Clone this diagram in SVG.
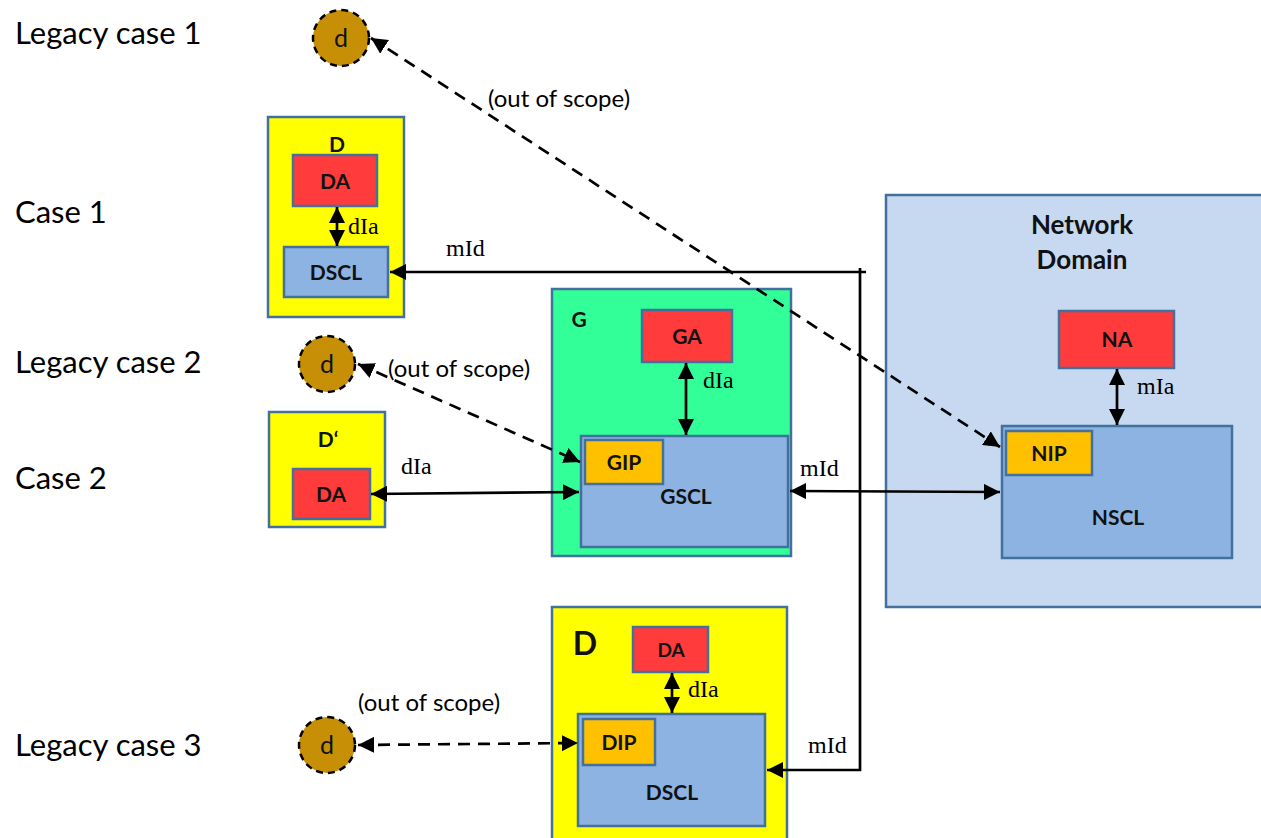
<svg xmlns="http://www.w3.org/2000/svg" width="1261" height="838" viewBox="0 0 1261 838">
<defs>
<marker id="ah" viewBox="0 0 10 10" refX="10" refY="5" markerWidth="6" markerHeight="6" markerUnits="strokeWidth" orient="auto-start-reverse"><path d="M0,0 L10,5 L0,10 z" fill="#000"/></marker>
</defs>
<style>
.lbl{font-family:Lato,"Open Sans","Liberation Sans",sans-serif;font-size:31px;fill:#000}
.bx{font-family:Lato,"Open Sans","Liberation Sans",sans-serif;font-size:21px;font-weight:bold;fill:#111;text-anchor:middle}
.ser{font-family:"Liberation Serif","DejaVu Serif",serif;font-size:24px;fill:#000}
.oos{font-family:Lato,"Open Sans","Liberation Sans",sans-serif;font-size:24px;fill:#000}
.dd{font-family:Lato,"Open Sans","Liberation Sans",sans-serif;font-size:25px;fill:#111;text-anchor:middle}
.b{stroke:#41719C;stroke-width:2.5}
.yel{fill:#FFFF00}.red{fill:#FF3B3B}.blu{fill:#8DB3E2}.grn{fill:#33FF99}.net{fill:#C6D9F1}.org{fill:#FFC000}
.leg{fill:#C68F06;stroke:#000;stroke-width:2.5;stroke-dasharray:7,5}
.c{stroke:#000;stroke-width:2.7;fill:none}
.d{stroke:#000;stroke-width:2.7;fill:none;stroke-dasharray:12,8}
</style>
<g id="labels">
<text class="lbl" x="15" y="44">Legacy case 1</text>
<text class="lbl" x="15" y="223">Case 1</text>
<text class="lbl" x="15" y="373">Legacy case 2</text>
<text class="lbl" x="15" y="489">Case 2</text>
<text class="lbl" x="15" y="756">Legacy case 3</text>
</g>
<g id="network">
<rect class="b net" x="886" y="195" width="380" height="412"/>
<text class="bx" x="1082" y="234" style="font-size:26px">Network</text>
<text class="bx" x="1082" y="269" style="font-size:26px">Domain</text>
<rect class="b red" x="1059" y="311" width="115" height="57"/>
<text class="bx" x="1117" y="347">NA</text>
<rect class="b blu" x="1002" y="426" width="230" height="132"/>
<rect class="b org" x="1006" y="431" width="86" height="44"/>
<text class="bx" x="1049" y="461">NIP</text>
<text class="bx" x="1118" y="525">NSCL</text>
</g>
<g id="case1">
<rect class="b yel" x="268" y="117" width="136" height="200"/>
<text class="bx" x="337" y="152">D</text>
<rect class="b red" x="293" y="155" width="84" height="51"/>
<text class="bx" x="335" y="189">DA</text>
<rect class="b blu" x="284" y="247" width="104" height="50"/>
<text class="bx" x="336" y="280">DSCL</text>
</g>
<g id="gateway">
<rect class="b grn" x="552" y="289" width="239" height="267"/>
<text class="bx" x="579" y="327">G</text>
<rect class="b red" x="642" y="310" width="90" height="52"/>
<text class="bx" x="687" y="344">GA</text>
<rect class="b blu" x="581" y="436" width="207" height="111"/>
<rect class="b org" x="585" y="440" width="78" height="44"/>
<text class="bx" x="624" y="470">GIP</text>
<text class="bx" x="686" y="504">GSCL</text>
</g>
<g id="case2">
<rect class="b yel" x="269" y="412" width="116" height="115"/>
<text class="bx" x="328" y="447">D‘</text>
<rect class="b red" x="293" y="469" width="77" height="50"/>
<text class="bx" x="331" y="502">DA</text>
</g>
<g id="case3">
<rect class="b yel" x="552" y="607" width="235" height="240"/>
<text class="bx" x="585" y="655" style="font-size:32px">D</text>
<rect class="b red" x="633" y="627" width="75" height="45"/>
<text class="bx" x="671" y="657" style="font-size:19px">DA</text>
<rect class="b blu" x="578" y="714" width="187" height="112"/>
<rect class="b org" x="583" y="719" width="72" height="46"/>
<text class="bx" x="619" y="750">DIP</text>
<text class="bx" x="672" y="800">DSCL</text>
</g>
<g id="legacy">
<circle class="leg" cx="341" cy="38" r="28"/>
<text class="dd" x="341" y="47">d</text>
<circle class="leg" cx="327" cy="364" r="28"/>
<text class="dd" x="327" y="373">d</text>
<circle class="leg" cx="327" cy="745" r="28"/>
<text class="dd" x="327" y="754">d</text>
</g>
<g id="connectors">
<line class="c" x1="337" y1="207" x2="337" y2="246" marker-start="url(#ah)" marker-end="url(#ah)"/>
<text class="ser" x="348" y="234">dIa</text>
<line class="c" x1="866" y1="272" x2="390" y2="272" marker-end="url(#ah)"/>
<text class="ser" x="446" y="256">mId</text>
<polyline class="c" points="860,268 860,770 767,770" marker-end="url(#ah)"/>
<text class="ser" x="808" y="753">mId</text>
<line class="c" x1="686" y1="363" x2="686" y2="435" marker-start="url(#ah)" marker-end="url(#ah)"/>
<text class="ser" x="703" y="388">dIa</text>
<line class="c" x1="1117" y1="369" x2="1117" y2="425" marker-start="url(#ah)" marker-end="url(#ah)"/>
<text class="ser" x="1137" y="394">mIa</text>
<line class="c" x1="790" y1="491" x2="1000" y2="492" marker-start="url(#ah)" marker-end="url(#ah)"/>
<text class="ser" x="800" y="476">mId</text>
<line class="c" x1="371" y1="494" x2="579" y2="492" marker-start="url(#ah)" marker-end="url(#ah)"/>
<text class="ser" x="401" y="474">dIa</text>
<line class="c" x1="672" y1="673" x2="672" y2="713" marker-start="url(#ah)" marker-end="url(#ah)"/>
<text class="ser" x="688" y="697">dIa</text>
<line class="d" x1="371" y1="38" x2="1000" y2="447" marker-start="url(#ah)" marker-end="url(#ah)"/>
<text class="oos" x="488" y="107">(out of scope)</text>
<line class="d" x1="358" y1="364" x2="580" y2="462" marker-start="url(#ah)" marker-end="url(#ah)"/>
<text class="oos" x="388" y="377">(out of scope)</text>
<line class="d" x1="358" y1="745" x2="578" y2="743" marker-start="url(#ah)" marker-end="url(#ah)"/>
<text class="oos" x="358" y="711">(out of scope)</text>
</g>
</svg>
